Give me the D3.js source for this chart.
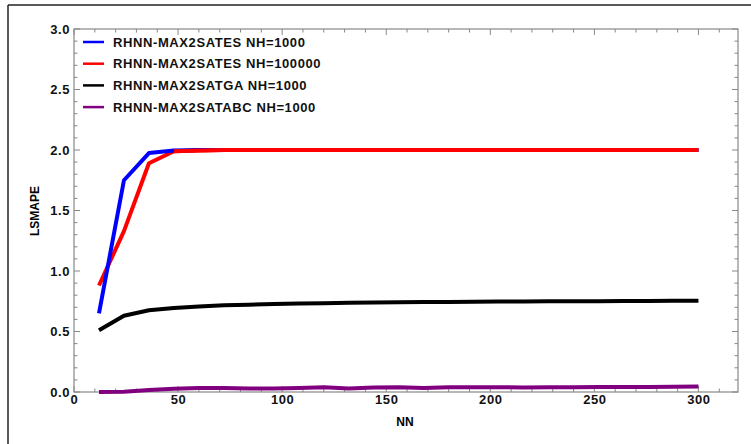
<!DOCTYPE html>
<html>
<head>
<meta charset="utf-8">
<script src="https://cdn.jsdelivr.net/npm/d3@7"></script>
<style>
  body { margin: 0; background: #fff; }
  svg { display: block; font-family: "Liberation Sans", Arial, sans-serif; }
</style>
</head>
<body>
<svg id="svg" width="751" height="444"></svg>
<script>
// data
var nn = [12, 24, 36, 48, 60, 72, 84, 96, 108, 120, 132, 144, 156, 168, 180, 192, 204, 216, 228, 240, 252, 264, 276, 288, 300];
var esSmall = [0.65, 1.75, 1.975, 1.995, 2.0, 2.0, 2.0, 2.0, 2.0, 2.0, 2.0, 2.0, 2.0, 2.0, 2.0, 2.0, 2.0, 2.0, 2.0, 2.0, 2.0, 2.0, 2.0, 2.0, 2.0];
var esBig = [0.88, 1.33, 1.89, 1.99, 1.995, 2.0, 2.0, 2.0, 2.0, 2.0, 2.0, 2.0, 2.0, 2.0, 2.0, 2.0, 2.0, 2.0, 2.0, 2.0, 2.0, 2.0, 2.0, 2.0, 2.0];
var ga = [0.51, 0.63, 0.675, 0.695, 0.707, 0.716, 0.722, 0.727, 0.731, 0.734, 0.737, 0.739, 0.741, 0.743, 0.744, 0.746, 0.747, 0.748, 0.749, 0.75, 0.751, 0.752, 0.753, 0.754, 0.755];
var abc = [0.0, 0.002, 0.017, 0.026, 0.033, 0.034, 0.029, 0.028, 0.034, 0.039, 0.029, 0.038, 0.04, 0.034, 0.04, 0.039, 0.04, 0.037, 0.039, 0.04, 0.041, 0.042, 0.041, 0.044, 0.045];

var seriesNames = ['RHNN-MAX2SATES NH=1000', 'RHNN-MAX2SATES NH=100000', 'RHNN-MAX2SATGA NH=1000', 'RHNN-MAX2SATABC NH=1000'];
var seriesColors = ['#0000ff', '#ff0000', '#000000', '#800080'];
var xTicks = [0, 50, 100, 150, 200, 250, 300];
var yTicks = [0.0, 0.5, 1.0, 1.5, 2.0, 2.5, 3.0];

var svg = d3.select('#svg');
var margin = { top: 29, left: 74, right: 13, bottom: 52 };
var width = 751, height = 444;
var innerWidth = width - margin.left - margin.right;
var innerHeight = height - margin.top - margin.bottom;

// outer border: only the left and top edges show in the picture
svg.append('line').attr('x1', 8).attr('x2', 8).attr('y1', 5).attr('y2', height)
   .attr('stroke', '#222').attr('stroke-width', 1.5);
svg.append('line').attr('x1', 8).attr('x2', width).attr('y1', 5).attr('y2', 5)
   .attr('stroke', '#222').attr('stroke-width', 1.5);

var xScale = d3.scaleLinear().domain([0, 319]).range([0, innerWidth]);
var yScale = d3.scaleLinear().domain([0, 3]).range([innerHeight, 0]);

var g = svg.append('g')
    .attr('transform', 'translate(' + margin.left + ',' + margin.top + ')');

// frame with inward ticks on all four sides
var frameColor = '#888';
var xMinor = d3.range(0, 320, 10);
var yMinor = d3.range(0, 3.01, 0.1);

function addTicks(values, isMajor, side) {
    var len = isMajor ? 6 : 3.5;
    values.forEach(function (v) {
        var l = g.append('line').attr('stroke', frameColor).attr('stroke-width', 1);
        if (side === 'bottom') l.attr('x1', xScale(v)).attr('x2', xScale(v)).attr('y1', innerHeight).attr('y2', innerHeight - len);
        if (side === 'top') l.attr('x1', xScale(v)).attr('x2', xScale(v)).attr('y1', 0).attr('y2', len);
        if (side === 'left') l.attr('y1', yScale(v)).attr('y2', yScale(v)).attr('x1', 0).attr('x2', len);
        if (side === 'right') l.attr('y1', yScale(v)).attr('y2', yScale(v)).attr('x1', innerWidth).attr('x2', innerWidth - len);
    });
}
['bottom', 'top'].forEach(function (s) {
    addTicks(xMinor.filter(function (v) { return v % 50 !== 0; }), false, s);
    addTicks(xTicks, true, s);
});
['left', 'right'].forEach(function (s) {
    addTicks(yMinor.filter(function (v) { return Math.round(v * 10) % 5 !== 0; }), false, s);
    addTicks(yTicks, true, s);
});

g.append('rect')
   .attr('width', innerWidth).attr('height', innerHeight)
   .attr('fill', 'none').attr('stroke', frameColor).attr('stroke-width', 1.2);

// tick labels via axes
var xAxis = d3.axisBottom(xScale).tickValues(xTicks).tickSize(0).tickPadding(3).tickFormat(d3.format('d'));
var xg = g.append('g').attr('transform', 'translate(0,' + innerHeight + ')').call(xAxis);
var yAxis = d3.axisLeft(yScale).tickValues(yTicks).tickSize(0).tickPadding(4).tickFormat(d3.format('.1f'));
var yg = g.append('g').call(yAxis);
[xg, yg].forEach(function (a) {
    a.select('.domain').remove();
    a.selectAll('text').attr('fill', '#111')
        .style('font-size', '13px')
        .style('font-weight', 'bold')
        .style('letter-spacing', '0.6px');
});

// lines
var allSeries = [esSmall, esBig, ga, abc];
var line = d3.line()
    .x(function (d, i) { return xScale(nn[i]); })
    .y(function (d) { return yScale(d); });

[3, 2, 1, 0].forEach(function (k) {
    g.append('path')
        .datum(allSeries[k])
        .attr('d', line)
        .attr('fill', 'none')
        .attr('stroke', seriesColors[k])
        .attr('stroke-width', 4)
        .attr('stroke-linejoin', 'round');
});
// red over blue after they meet
g.append('path')
    .datum(esBig.slice(3))
    .attr('d', d3.line().x(function (d, i) { return xScale(nn[i + 3]); }).y(function (d) { return yScale(d); }))
    .attr('fill', 'none')
    .attr('stroke', seriesColors[1])
    .attr('stroke-width', 4);

// axis titles
g.append('text')
    .attr('x', xScale(159))
    .attr('y', innerHeight + 34)
    .attr('text-anchor', 'middle')
    .style('font-weight', 'bold')
    .style('font-size', '12px')
    .text('NN');

g.append('text')
    .attr('transform', 'rotate(-90)')
    .attr('x', -(211 - margin.top))
    .attr('y', -35)
    .attr('text-anchor', 'middle')
    .style('font-weight', 'bold')
    .style('font-size', '12px')
    .text('LSMAPE');

// legend
seriesNames.forEach(function (name, i) {
    var lg = svg.append('g')
        .attr('transform', 'translate(83,' + (42 + i * 21.7) + ')');
    lg.append('line')
        .attr('x1', 0).attr('x2', 21)
        .attr('y1', 0).attr('y2', 0)
        .attr('stroke', seriesColors[i])
        .attr('stroke-width', 2.5);
    lg.append('text')
        .attr('x', 30)
        .attr('y', 4.5)
        .style('font-weight', 'bold')
        .style('font-size', '13px')
        .style('letter-spacing', '0.6px')
        .attr('fill', '#111')
        .text(name);
});
</script>
</body>
</html>
